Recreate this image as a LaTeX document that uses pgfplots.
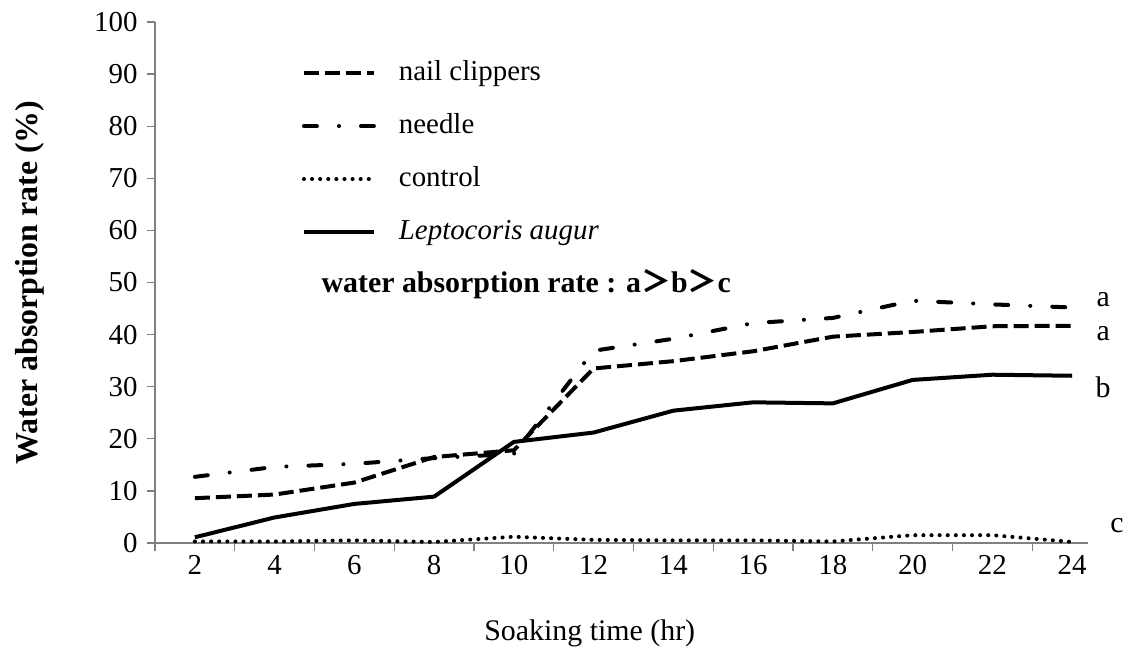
\documentclass[border=0pt]{standalone}
\usepackage{fontspec}
\setmainfont{Liberation Serif}
\newfontfamily\cjk{Noto Sans CJK SC}
\usepackage{pgfplots}
\pgfplotsset{compat=1.18}

\pgfplotstableread{
x nail needle control lepto
2 8.6 12.7 0.3 1.1
4 9.3 14.6 0.3 4.9
6 11.6 15.2 0.5 7.5
8 16.5 16.3 0.2 8.9
10 17.8 17.1 1.2 19.4
12 33.5 36.9 0.6 21.2
14 34.9 39.2 0.5 25.4
16 36.8 42.2 0.5 27.0
18 39.6 43.2 0.3 26.8
20 40.5 46.5 1.5 31.3
22 41.6 45.8 1.5 32.3
24 41.7 45.2 0.2 32.1
}\datatable

\begin{document}
\begin{tikzpicture}
\path[use as bounding box] (-155bp,-105bp) rectangle (974bp,543bp);
\begin{axis}[
  scale only axis, width=933bp, height=521bp,
  xmin=1, xmax=24.4, ymin=0, ymax=100,
  axis lines*=left,
  axis line style={draw=gray, line width=1.5bp},
  clip=false,
  xtick={1,3,...,23}, xticklabels={},
  extra x ticks={2,4,...,24},
  extra x tick labels={2,4,6,8,10,12,14,16,18,20,22,24},
  extra x tick style={major tick length=0pt},
  ytick={0,10,...,100},
  tick align=outside, major tick length=8bp,
  tick style={draw=gray, line width=1.2bp},
  /pgf/number format/assume math mode=true,
  tick label style={font=\fontsize{29}{30}\selectfont},
  yticklabel style={xshift=-6bp},
  xticklabel style={anchor=north, text height=19bp, text depth=0bp, yshift=-9bp},
  every axis y label/.style={at={(axis description cs:-0.134,0.5)}, rotate=90, anchor=center, font=\fontsize{32}{36}\selectfont\bfseries},
  ylabel={Water absorption rate (\%)},
  every axis x label/.style={at={(axis description cs:0.466,-0.173)}, anchor=center, font=\fontsize{30}{36}\selectfont},
  xlabel={Soaking time (hr)},
  legend cell align=left,
  legend image code/.code={\draw[#1] (0bp,0bp) -- (70bp,0bp);},
  legend style={at={(axis cs:4.68,93)}, anchor=north west, draw=none, fill=none,
    inner sep=0pt, row sep=24bp, column sep=23bp,
    font=\fontsize{29}{34}\selectfont,
    nodes={inner sep=0pt, text height=22bp, text depth=7bp}},
]
\addplot[black, line width=4bp, dash pattern=on 15bp off 6bp] table[x=x, y=nail] {\datatable};
\addlegendentry{nail clippers}
\addplot[black, line width=4bp, line cap=round, dash pattern=on 13bp off 22bp on 0.1bp off 22bp] table[x=x, y=needle] {\datatable};
\addlegendentry{needle}
\addplot[black, line width=4bp, line cap=round, dash pattern=on 0.1bp off 8bp] table[x=x, y=control] {\datatable};
\addlegendentry{control}
\addplot[black, line width=4bp] table[x=x, y=lepto] {\datatable};
\addlegendentry{\textit{Leptocoris augur}}

\node[anchor=west, font=\fontsize{30}{34}\selectfont\bfseries] at (axis cs:5.09,49.7) {water absorption rate : a{\cjk ＞}b{\cjk ＞}c};
\node[font=\fontsize{30}{34}\selectfont] at (axis cs:24.78,46.8) {a};
\node[font=\fontsize{30}{34}\selectfont] at (axis cs:24.78,40.2) {a};
\node[font=\fontsize{30}{34}\selectfont] at (axis cs:24.78,29.8) {b};
\node[font=\fontsize{30}{34}\selectfont] at (axis cs:25.13,3.4) {c};
\end{axis}
\end{tikzpicture}
\end{document}
